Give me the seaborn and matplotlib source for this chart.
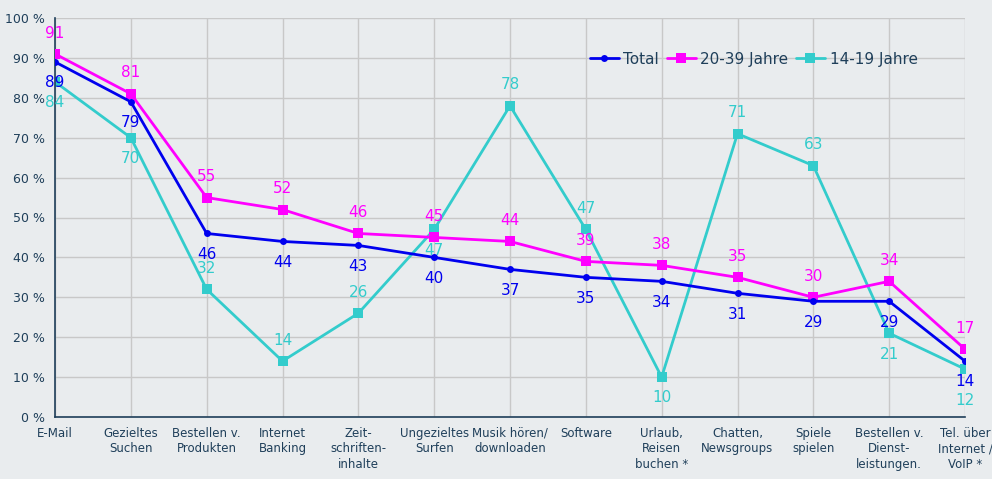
import numpy as np
import pandas as pd
import seaborn as sns
import matplotlib.pyplot as plt

categories = ["E-Mail", "Gezieltes\nSuchen", "Bestellen v.\nProdukten", "Internet\nBanking",
              "Zeit-\nschriften-\ninhalte", "Ungezieltes\nSurfen", "Musik hören/\ndownloaden",
              "Software", "Urlaub,\nReisen\nbuchen *", "Chatten,\nNewsgroups", "Spiele\nspielen",
              "Bestellen v.\nDienst-\nleistungen.", "Tel. über\nInternet /\nVoIP *"]
total = [89, 79, 46, 44, 43, 40, 37, 35, 34, 31, 29, 29, 14]
age_20_39 = [91, 81, 55, 52, 46, 45, 44, 39, 38, 35, 30, 34, 17]
age_14_19 = [84, 70, 32, 14, 26, 47, 78, 47, 10, 71, 63, 21, 12]
# label above (+) or below (-) the point for the 14-19 series
teen_label_side = [-1, -1, 1, 1, 1, -1, 1, 1, -1, 1, 1, -1, -1.5]

series = {"Total": total, "20-39 Jahre": age_20_39, "14-19 Jahre": age_14_19}
colors = {"Total": "#0000EE", "20-39 Jahre": "#FF00FF", "14-19 Jahre": "#33CCCC"}
markers = {"Total": "o", "20-39 Jahre": "s", "14-19 Jahre": "s"}
sizes = {"Total": 5, "20-39 Jahre": 7, "14-19 Jahre": 6.5}
layers = {"Total": 4, "20-39 Jahre": 3, "14-19 Jahre": 2}

df = pd.concat([pd.DataFrame({"pos": np.arange(len(categories)), "value": v, "series": k})
                for k, v in series.items()], ignore_index=True)

bg = "#E9ECEE"
navy = "#1F3F5A"

sns.set_style("whitegrid")
plt.rcParams["font.family"] = ["DejaVu Sans"]

fig = plt.figure(figsize=(9.92, 4.79), dpi=100, facecolor=bg)
ax = fig.add_axes([55 / 992, 1 - 417 / 479, 910 / 992, 399 / 479])
ax.set_facecolor(bg)

for name in series:
    sub = df[df["series"] == name]
    sns.lineplot(data=sub, x="pos", y="value", ax=ax, color=colors[name], marker=markers[name],
                 markersize=sizes[name], markeredgewidth=0, linewidth=2, sort=False, label=name,
                 zorder=layers[name])

def put_labels(values, sides, color):
    for i, (v, s) in enumerate(zip(values, sides)):
        ax.annotate(f"{v}", (i, v), xytext=(0, 15 * s), textcoords="offset points",
                    ha="center", va="center", fontsize=11, color=color)

put_labels(total, [-1] * len(total), colors["Total"])
put_labels(age_20_39, [1] * len(age_20_39), colors["20-39 Jahre"])
put_labels(age_14_19, teen_label_side, colors["14-19 Jahre"])

ax.set_xlim(0, len(categories) - 1)
ax.set_ylim(0, 100)
ax.set_xticks(np.arange(len(categories)))
ax.set_xticklabels(categories, fontsize=8.5, color=navy, linespacing=1.25)
ax.set_yticks(np.arange(0, 101, 10))
ax.set_yticklabels([f"{t} %" for t in range(0, 101, 10)], fontsize=9, color=navy)
ax.set_xlabel("")
ax.set_ylabel("")
ax.grid(True, color="#C8C8C8", linewidth=1)
for side in ["top", "right"]:
    ax.spines[side].set_visible(False)
for side in ["left", "bottom"]:
    ax.spines[side].set_color(navy)
    ax.spines[side].set_linewidth(1.2)
ax.tick_params(axis="both", direction="out", length=4, color=navy, width=1, pad=3)

leg = ax.legend(loc="upper right", bbox_to_anchor=(0.963, 0.95), ncol=3, frameon=False,
                fontsize=11, handlelength=1.9, handletextpad=0.3, columnspacing=0.5)
for t in leg.get_texts():
    t.set_color(navy)

fig.savefig("out.png", dpi=100, facecolor=bg)
